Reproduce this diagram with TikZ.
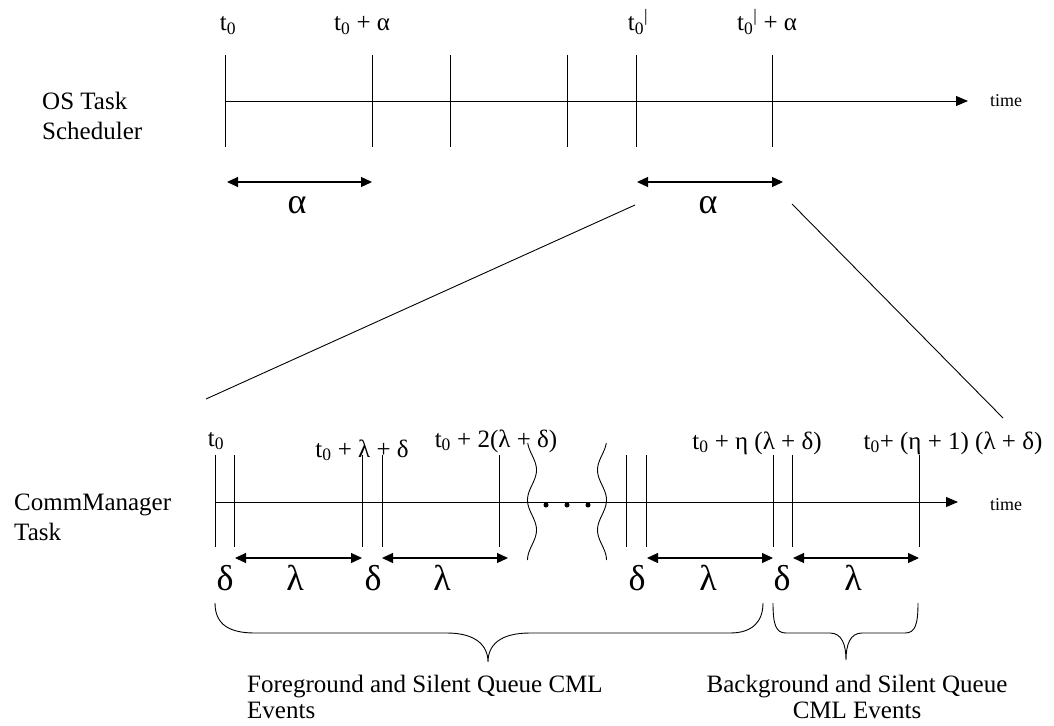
\documentclass[tikz,border=0pt]{standalone}
\usepackage{fontspec}
\setmainfont{Liberation Serif}
\usetikzlibrary{arrows.meta}

\begin{document}
\begin{tikzpicture}[
	x=1pt, y=-1pt,
	lbl/.style={ font=\fontsize{25}{30}\selectfont, inner sep=0pt },
	txt/.style={ font=\fontsize{25}{26}\selectfont, inner sep=0pt },
	grk/.style={ font=\fontsize{36}{40}\selectfont, inner sep=0pt, anchor=base },
	tlbl/.style={ font=\fontsize{18}{20}\selectfont, inner sep=0pt, anchor=west },
	tick/.style={ line width=0.9pt },
	axis/.style={ line width=0.9pt, -{Triangle[length=12pt,width=10pt]} },
	span/.style={ line width=1.2pt, {Triangle[length=11pt,width=10pt]}-{Triangle[length=11pt,width=10pt]} },
	dot/.style={ circle, fill, inner sep=0pt, minimum size=5pt }
]
\useasboundingbox (0,0) rectangle (1054,725);

% OS task scheduler
\node[lbl, align=left, anchor=base west] at (42,139) (os) {OS Task\\Scheduler};
\coordinate (s0) at (225,101);
\coordinate (s1) at (968,101);
\draw[axis] (s0) -- (s1);
\node[tlbl] at (990,101) (time1) {time};
\foreach \x in {225,372,450,567,636,772}
  \draw[tick] (\x,55) -- (\x,147);
\node[lbl, anchor=base] at (228,31) (ta) {t\textsubscript{0}};
\node[lbl, anchor=base] at (362,31) (tb) {t\textsubscript{0} + α};
\node[lbl, anchor=base] at (638,31) (tc) {t\textsubscript{0}\textsuperscript{|}};
\node[lbl, anchor=base] at (767,31) (td) {t\textsubscript{0}\textsuperscript{|} + α};

\coordinate (a0) at (227,182);
\coordinate (a1) at (372,182);
\coordinate (a2) at (637,182);
\coordinate (a3) at (783,182);
\draw[span] (a0) -- (a1);
\draw[span] (a2) -- (a3);
\node[grk] at (297,213) (al1) {α};
\node[grk] at (708,213) (al2) {α};

% zoom lines
\coordinate (z0) at (635,205);
\coordinate (z1) at (206,399);
\coordinate (z2) at (792,204);
\coordinate (z3) at (1003,418);
\draw[tick] (z0) -- (z1);
\draw[tick] (z2) -- (z3);

% CommManager task
\node[lbl, align=left, anchor=base west] at (14,540) (cm) {CommManager\\Task};
\coordinate (c0) at (215,502);
\coordinate (c1) at (958,502);
\draw[axis] (c0) -- (c1);
\node[tlbl] at (990,505) (time2) {time};
\foreach \x in {215,234,362,382,499,626,646,773,792,919}
  \draw[tick] (\x,455) -- (\x,547);

\node[lbl, anchor=base] at (216,446) (ua) {t\textsubscript{0}};
\node[lbl, anchor=base] at (362,457) (ub) {t\textsubscript{0} + λ + δ};
\node[lbl, anchor=base] at (496,447) (uc) {t\textsubscript{0} + 2(λ + δ)};
\node[lbl, anchor=base] at (757,449) (ud) {t\textsubscript{0} + η (λ + δ)};
\node[lbl, anchor=base] at (953,449) (ue) {t\textsubscript{0}+ (η + 1) (λ + δ)};

% break
\draw[tick, domain=443:560, samples=60, smooth, variable=\t]
  plot ({532+4.5*cos(6*(\t-470))},\t);
\draw[tick, domain=443:560, samples=60, smooth, variable=\t]
  plot ({602-4.5*cos(6*(\t-470))},\t);
\node[dot] at (546,505) (d1) {};
\node[dot] at (567,505) (d2) {};
\node[dot] at (588,505) (d3) {};

\coordinate (b0) at (235,558);
\coordinate (b1) at (362,558);
\coordinate (b2) at (382,558);
\coordinate (b3) at (508,558);
\coordinate (b4) at (647,558);
\coordinate (b5) at (773,558);
\coordinate (b6) at (793,558);
\coordinate (b7) at (919,558);
\draw[span] (b0) -- (b1);
\draw[span] (b2) -- (b3);
\draw[span] (b4) -- (b5);
\draw[span] (b6) -- (b7);
\foreach \x in {225,373,637,782}
  \node[grk] at (\x,590) {δ};
\foreach \x in {295,442,708,853}
  \node[grk] at (\x,590) {λ};

% braces
\draw[tick] (215,603) .. controls (215,625) and (230,633) .. (255,633)
  -- (447,633) .. controls (475,633) and (488,645) .. (488,662)
  .. controls (488,645) and (500,633) .. (530,633)
  -- (730,633) .. controls (752,633) and (763,622) .. (763,603);
\draw[tick] (773,603) .. controls (773,625) and (776,633) .. (786,633)
  -- (830,633) .. controls (842,633) and (846,645) .. (846,660)
  .. controls (846,645) and (850,633) .. (862,633)
  -- (905,633) .. controls (915,633) and (918,625) .. (918,603);

\node[txt, align=left, anchor=base west] at (247,718) (fg) {Foreground and Silent Queue CML\\Events};
\node[txt, align=center, anchor=base] at (857,718) (bg) {Background and Silent Queue\\CML Events};

\end{tikzpicture}
\end{document}
